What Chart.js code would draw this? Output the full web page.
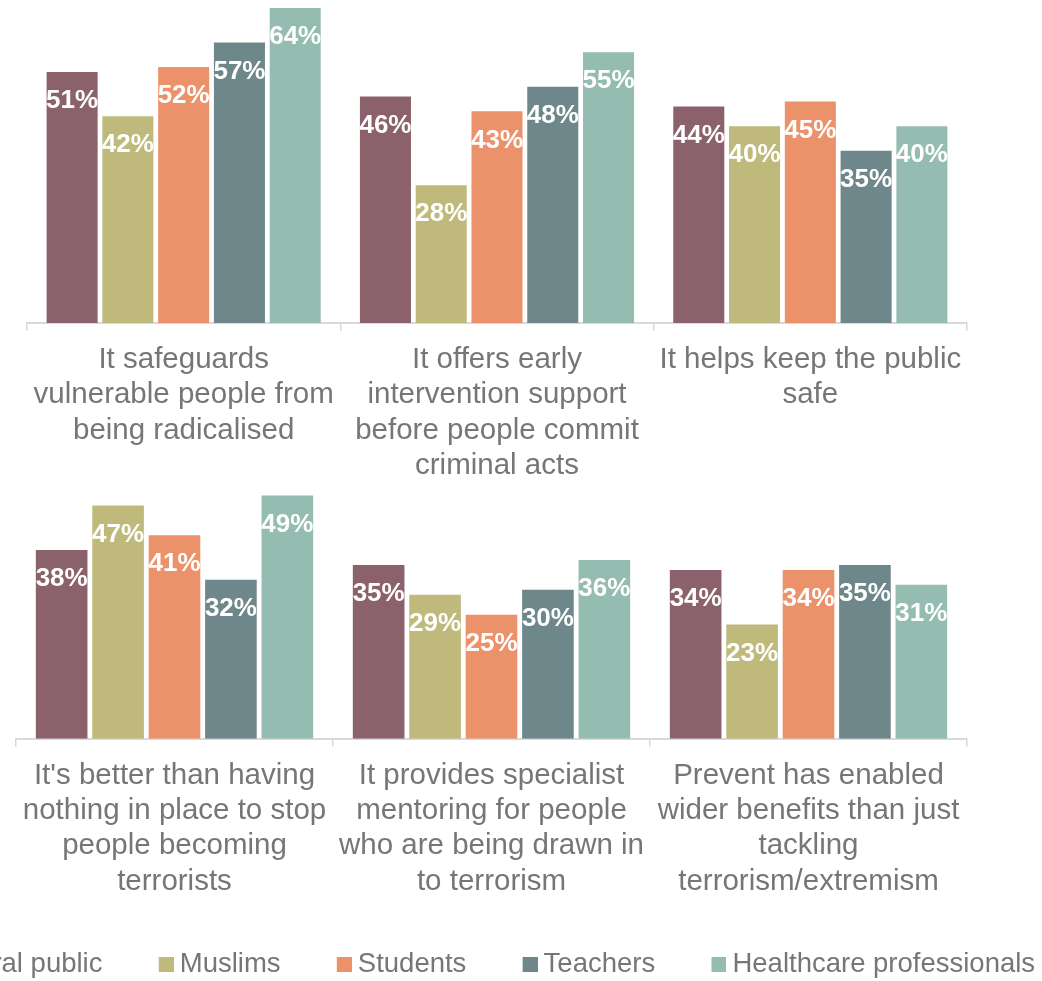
<!DOCTYPE html>
<html>
<head>
<meta charset="utf-8">
<script src="https://cdn.jsdelivr.net/npm/chart.js@4.4.0/dist/chart.umd.min.js"></script>
<style>
  html, body { margin: 0; padding: 0; background: #fff; overflow: hidden; width: 1042px; height: 981px; }
  #wrap { position: relative; width: 1042px; height: 981px; overflow: hidden; }
  #top-box { position: absolute; left: 0; top: 0; width: 1042px; height: 480px; }
  #bottom-box { position: absolute; left: -203px; top: 480px; width: 1300px; height: 508px; }
</style>
</head>
<body>
<div id="wrap">
  <div id="top-box"><canvas id="top-chart"></canvas></div>
  <div id="bottom-box"><canvas id="bottom-chart"></canvas></div>
</div>
<script>
/* ======== DATA ======== */
const seriesNames = ["General public", "Muslims", "Students", "Teachers", "Healthcare professionals"];
const seriesColors = ["#8B626C", "#BFBA7C", "#EC926A", "#6E878A", "#94BCB0"];

const topCategories = [
    ["It safeguards", "vulnerable people from", "being radicalised"],
    ["It offers early", "intervention support", "before people commit", "criminal acts"],
    ["It helps keep the public", "safe"]
];
const topGeneral = [51, 46, 44];
const topMuslims = [42, 28, 40];
const topStudents = [52, 43, 45];
const topTeachers = [57, 48, 35];
const topHealthcare = [64, 55, 40];

const bottomCategories = [
    ["It's better than having", "nothing in place to stop", "people becoming", "terrorists"],
    ["It provides specialist", "mentoring for people", "who are being drawn in", "to terrorism"],
    ["Prevent has enabled", "wider benefits than just", "tackling", "terrorism/extremism"]
];
const bottomGeneral = [38, 35, 34];
const bottomMuslims = [47, 29, 23];
const bottomStudents = [41, 25, 34];
const bottomTeachers = [32, 30, 35];
const bottomHealthcare = [49, 36, 31];

/* ======== SHARED STYLE ======== */
const fontFamily = "'Liberation Sans', Arial, sans-serif";
const textGrey = "#767676";
const axisGrey = "#d9d9d9";

/* white percentage written inside the top of each bar */
const barValueLabels = {
    id: 'barValueLabels',
    afterDatasetsDraw(chart) {
        const ctx = chart.ctx;
        ctx.save();
        ctx.font = "bold 26px " + fontFamily;
        ctx.fillStyle = "#ffffff";
        ctx.textAlign = "center";
        ctx.textBaseline = "middle";
        chart.data.datasets.forEach((dataset, i) => {
            chart.getDatasetMeta(i).data.forEach((bar, j) => {
                ctx.fillText(dataset.data[j] + "%", bar.x, bar.y + 29);
            });
        });
        ctx.restore();
    }
};

/* Legend swatch: a wide transparent strip with the coloured square at its
   right end. The legend spaces items by the point style width, so the empty
   part acts as the gap between entries while the square stays close to its text. */
const legendStyleWidth = 52.5;
function legendSwatch(color) {
    const c = document.createElement("canvas");
    c.width = 68;
    c.height = 15;
    const g = c.getContext("2d");
    g.fillStyle = color;
    g.fillRect(c.width - 15, 0, 15, 15);
    return c;
}
const swatches = seriesColors.map(legendSwatch);

function buildDatasets(rows) {
    return rows.map((row, i) => ({
        label: seriesNames[i],
        data: row,
        backgroundColor: seriesColors[i],
        borderWidth: 0,
        categoryPercentage: 0.89,
        barPercentage: 0.915
    }));
}

function categoryAxis(axisHeight) {
    return {
        grid: {
            display: true,
            drawOnChartArea: false,
            drawTicks: true,
            tickLength: 8,
            color: axisGrey,
            lineWidth: 1.5,
            offset: true
        },
        border: { display: true, color: axisGrey, width: 2 },
        ticks: {
            color: textGrey,
            font: { family: fontFamily, size: 29.5, lineHeight: 1.2 },
            padding: 11,
            autoSkip: false,
            maxRotation: 0,
            minRotation: 0
        },
        afterFit: (scale) => { scale.height = axisHeight; }
    };
}

/* ======== TOP CHART ======== */
const topChart = new Chart(document.getElementById("top-chart").getContext("2d"), {
    type: 'bar',
    data: {
        labels: topCategories,
        datasets: buildDatasets([topGeneral, topMuslims, topStudents, topTeachers, topHealthcare])
    },
    options: {
        responsive: true,
        maintainAspectRatio: false,
        animation: false,
        layout: { padding: { left: 27, right: 75, top: 8, bottom: 0 } },
        scales: {
            x: categoryAxis(157),
            y: { display: false, min: 0, max: 64 }
        },
        plugins: {
            legend: { display: false },
            tooltip: { enabled: false }
        }
    },
    plugins: [barValueLabels]
});

/* ======== BOTTOM CHART (carries the legend) ======== */
const bottomChart = new Chart(document.getElementById("bottom-chart").getContext("2d"), {
    type: 'bar',
    data: {
        labels: bottomCategories,
        datasets: buildDatasets([bottomGeneral, bottomMuslims, bottomStudents, bottomTeachers, bottomHealthcare])
    },
    options: {
        responsive: true,
        maintainAspectRatio: false,
        animation: false,
        layout: { padding: { left: 0, right: 0, top: 10.5, bottom: 0 } },
        scales: {
            x: categoryAxis(200.75),
            y: {
                position: 'left',
                min: 0,
                max: 50,
                ticks: { display: false },
                grid: { display: false },
                border: { display: false },
                afterFit: (scale) => { scale.width = 219; }
            },
            yRight: {
                type: 'linear',
                position: 'right',
                ticks: { display: false },
                grid: { display: false },
                border: { display: false },
                afterFit: (scale) => { scale.width = 130; }
            }
        },
        plugins: {
            legend: {
                position: 'bottom',
                labels: {
                    usePointStyle: true,
                    pointStyleWidth: legendStyleWidth,
                    boxHeight: 15,
                    padding: 11,
                    color: textGrey,
                    font: { family: fontFamily, size: 27.5 },
                    generateLabels: (chart) =>
                        Chart.defaults.plugins.legend.labels.generateLabels(chart)
                            .map((item, i) => ({ ...item, pointStyle: swatches[i] }))
                }
            },
            tooltip: { enabled: false }
        }
    },
    plugins: [barValueLabels]
});
</script>
</body>
</html>
